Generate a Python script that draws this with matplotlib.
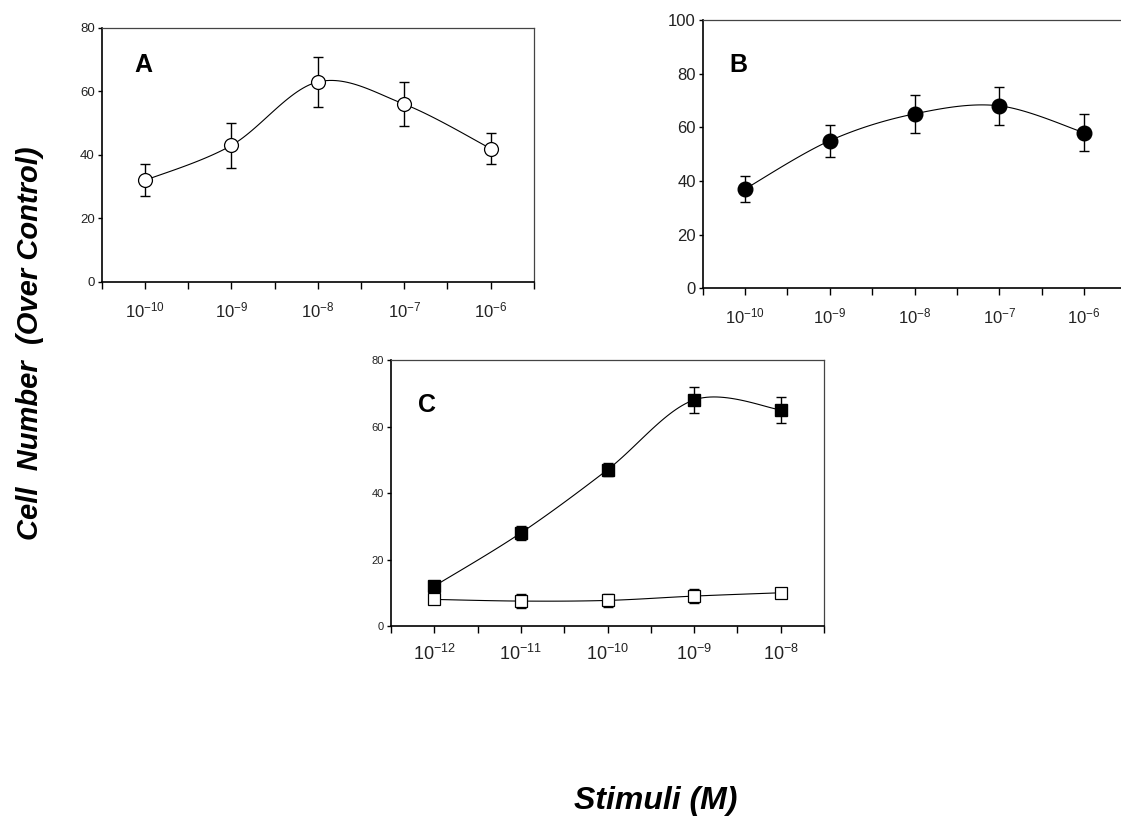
import numpy as np
from matplotlib import pyplot as plt
from matplotlib import font_manager

# 字体设置
names = {f.name for f in font_manager.fontManager.ttflist}
narrow = 'Liberation Sans Narrow' if 'Liberation Sans Narrow' in names else 'Liberation Sans'
plt.rcParams['font.family'] = ['Liberation Sans', 'DejaVu Sans']
plt.rcParams['mathtext.fontset'] = 'custom'
plt.rcParams['mathtext.rm'] = 'Liberation Sans'

# 数据
labels_a = ['-10', '-9', '-8', '-7', '-6']
mean_a = [32, 43, 63, 56, 42]
err_a = [5, 7, 8, 7, 5]

labels_b = ['-10', '-9', '-8', '-7', '-6']
mean_b = [37, 55, 65, 68, 58]
err_b = [5, 6, 7, 7, 7]

labels_c = ['-12', '-11', '-10', '-9', '-8']
mean_c_filled = [12, 28, 47, 68, 65]
err_c_filled = [1, 2, 2, 4, 4]
mean_c_open = [8, 7.5, 7.7, 9, 10]
err_c_open = [1, 2, 2, 2, 1]


def smooth(y):
    # Excel式平滑曲线 (Bezier)
    y = np.asarray(y, float)
    x = np.arange(len(y), dtype=float)
    pts = np.column_stack([x, y])
    ext = np.vstack([pts[0], pts, pts[-1]])
    t = np.linspace(0, 1, 30)[:, None]
    out = []
    for i in range(len(pts) - 1):
        p0 = ext[i + 1]
        p3 = ext[i + 2]
        c1 = p0 + (ext[i + 2] - ext[i]) / 6
        c2 = p3 - (ext[i + 3] - ext[i + 1]) / 6
        seg = ((1 - t) ** 3) * p0 + 3 * ((1 - t) ** 2) * t * c1 + 3 * (1 - t) * t ** 2 * c2 + t ** 3 * p3
        out.append(seg)
    out = np.vstack(out)
    return out[:, 0], out[:, 1]


def setup(ax, labels, ymax, xfs, yfs, xfont, yfont):
    ax.set_xlim(-0.5, 4.5)
    ax.set_ylim(0, ymax)
    ax.set_xticks(np.arange(-0.5, 4.51, 0.5), minor=False)
    lab = []
    for k in np.arange(-0.5, 4.51, 0.5):
        if abs(k - round(k)) < 1e-6:
            lab.append(r'$\mathregular{10^{' + labels[int(round(k))] + '}}$')
        else:
            lab.append('')
    ax.set_xticklabels(lab, fontsize=xfs, family=xfont, color='#222222')
    ax.set_yticks(np.arange(0, ymax + 1, 20))
    ax.set_yticklabels([str(v) for v in range(0, ymax + 1, 20)], fontsize=yfs, family=yfont, color='#222222')
    ax.tick_params(axis='x', direction='out', length=5, width=1, pad=8)
    ax.tick_params(axis='y', direction='out', length=3, width=1, pad=2)
    ax.spines['left'].set_linewidth(1.2)
    ax.spines['bottom'].set_linewidth(1.2)
    for s in ['top', 'right']:
        ax.spines[s].set_linewidth(0.9)
        ax.spines[s].set_color('#444444')


fig = plt.figure(figsize=(11.21, 8.18), dpi=100)
xs = np.arange(len(mean_a))

# A
ax_a = fig.add_axes([0.0907, 0.6553, 0.3856, 0.3105])
sx, sy = smooth(mean_a)
ax_a.plot(sx, sy, color='black', lw=0.8, zorder=2)
ax_a.errorbar(xs, mean_a, yerr=err_a, fmt='none', ecolor='black', elinewidth=1, capsize=3.5, capthick=1, zorder=3)
ax_a.plot(xs, mean_a, 'o', ms=10, mfc='white', mec='black', mew=0.9, zorder=4)
setup(ax_a, labels_a, 80, 12, 9.5, narrow, 'Liberation Sans')
ax_a.text(143, 818 - 65, 'A', transform=None, fontsize=18, fontweight='bold', va='center', ha='center')

# B
ax_b = fig.add_axes([0.6269, 0.6476, 0.3778, 0.3280])
sx, sy = smooth(mean_b)
ax_b.plot(sx, sy, color='black', lw=0.8, zorder=2)
ax_b.errorbar(xs, mean_b, yerr=err_b, fmt='none', ecolor='black', elinewidth=1, capsize=3.5, capthick=1, zorder=3)
ax_b.plot(xs, mean_b, 'o', ms=10.5, mfc='black', mec='black', zorder=4)
setup(ax_b, labels_b, 100, 12, 12, narrow, narrow)
ax_b.text(738, 818 - 65, 'B', transform=None, fontsize=18, fontweight='bold', va='center', ha='center')

# C
ax_c = fig.add_axes([0.3488, 0.2347, 0.3863, 0.3252])
sx, sy = smooth(mean_c_filled)
ax_c.plot(sx, sy, color='black', lw=0.8, zorder=2)
sx, sy = smooth(mean_c_open)
ax_c.plot(sx, sy, color='black', lw=0.8, zorder=2)
ax_c.errorbar(xs, mean_c_filled, yerr=err_c_filled, fmt='none', ecolor='black', elinewidth=1, capsize=3.5, capthick=1, zorder=3)
ax_c.errorbar(xs, mean_c_open, yerr=err_c_open, fmt='none', ecolor='black', elinewidth=1, capsize=3.5, capthick=1, zorder=3)
ax_c.plot(xs, mean_c_filled, 's', ms=8, mfc='black', mec='black', zorder=4)
ax_c.plot(xs, mean_c_open, 's', ms=8, mfc='white', mec='black', mew=0.9, zorder=4)
setup(ax_c, labels_c, 80, 13, 8, 'Liberation Sans', 'Liberation Sans')
ax_c.text(427, 818 - 405, 'C', transform=None, fontsize=18, fontweight='bold', va='center', ha='center')

# 轴标题
fig.text(30 / 1121, 1 - 343 / 818, 'Cell  Number  (Over Control)', rotation=90, fontsize=21,
         fontweight='bold', style='italic', ha='center', va='center')
fig.text(656 / 1121, 2 / 818, 'Stimuli (M)', fontsize=23, fontweight='bold', style='italic',
         ha='center', va='bottom')

fig.savefig('out.png', dpi=100)
